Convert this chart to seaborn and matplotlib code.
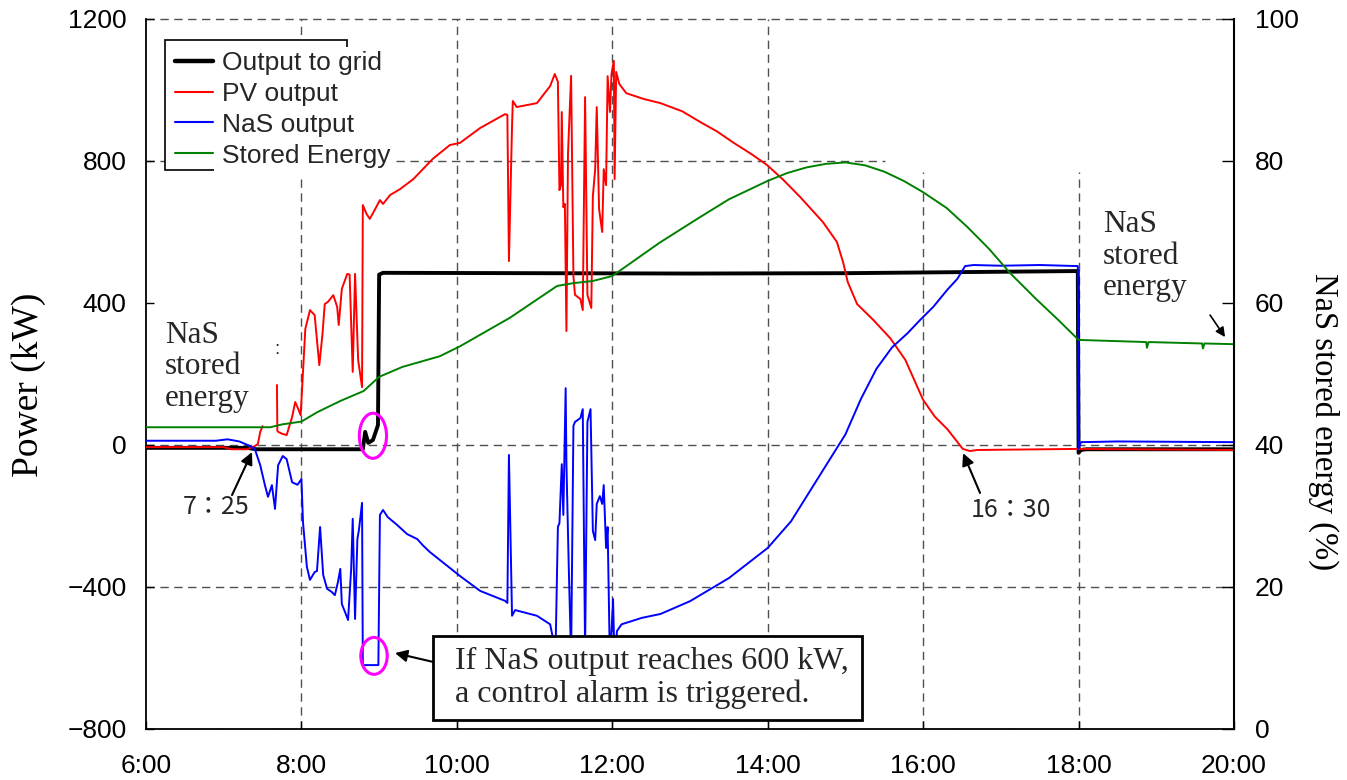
import matplotlib
matplotlib.use("Agg")
import matplotlib.pyplot as plt
import seaborn as sns
import numpy as np
from matplotlib.patches import Ellipse, Rectangle
from matplotlib.lines import Line2D

# ---------------- data ----------------
series_names = ["Output to grid", "PV output", "NaS output", "Stored Energy"]

hour_ticks = [6, 8, 10, 12, 14, 16, 18, 20]
hour_labels = ["6:00", "8:00", "10:00", "12:00", "14:00", "16:00", "18:00", "20:00"]
power_ticks = [-800, -400, 0, 400, 800, 1200]
energy_ticks = [0, 20, 40, 60, 80, 100]

black_time = [6.00, 7.30, 7.42, 8.79, 8.82, 8.86, 8.92, 8.985, 9.00, 9.05,
              11.00, 13.00, 15.00, 17.99, 18.00, 18.03, 18.10, 20.00]
black_kw = [-8, -8, -12, -12, 37, 6, 14, 56, 480, 485,
            484, 483, 484, 490, -22, -14, -12, -12]

red_time = [
    6.00, 7.00, 7.10, 7.30, 7.40, 7.44, 7.47, 7.50,
    7.685, 7.69, 7.70, 7.76, 7.81, 7.88, 7.92, 7.96, 7.99,
    8.05, 8.11, 8.17, 8.23, 8.27, 8.30, 8.34, 8.41, 8.46, 8.48,
    8.52, 8.59, 8.62, 8.66, 8.69, 8.73, 8.78, 8.79, 8.84, 8.88,
    8.95, 9.01, 9.05, 9.14, 9.27, 9.44, 9.69, 9.91, 10.04, 10.30,
    10.62, 10.65, 10.67, 10.71, 10.72, 10.77, 11.03, 11.20, 11.26, 11.30,
    11.32, 11.34, 11.35, 11.37, 11.39, 11.41, 11.43, 11.47, 11.50, 11.52,
    11.59, 11.62, 11.65, 11.68, 11.73, 11.75, 11.78, 11.80, 11.83, 11.87,
    11.89, 11.92, 11.94, 11.97, 11.99, 12.02, 12.03, 12.05, 12.09, 12.18,
    12.40, 12.62, 12.90, 13.13, 13.35, 13.55, 13.80, 13.99, 14.20, 14.42,
    14.71, 14.89, 14.97, 15.03, 15.15, 15.36, 15.58, 15.77, 16.00, 16.15,
    16.31, 16.51, 16.60, 16.70, 18.00, 20.00]
red_kw = [
    -6, -6, -12, -12, -3, 3, 37, 53,
    169, 40, 37, 31, 28, 79, 121, 101, 84,
    327, 380, 366, 225, 310, 397, 403, 422, 389, 338,
    440, 482, 480, 206, 482, 239, 163, 676, 650, 637,
    665, 690, 679, 704, 721, 749, 806, 845, 851, 893,
    932, 930, 518, 899, 969, 952, 963, 1011, 1045, 1023,
    718, 732, 938, 670, 679, 321, 820, 1040, 476, 423,
    411, 380, 980, 423, 386, 701, 777, 952, 665, 600,
    777, 732, 1039, 938, 1045, 1082, 749, 1051, 1017, 991,
    975, 963, 940, 910, 883, 853, 818, 789, 747, 698,
    628, 572, 515, 459, 397, 352, 300, 240, 127, 80,
    45, -11, -17, -14, -11, -14]
red_data_gap_after = 7.55   # PV record is missing between 7:30 and 7:41

blue_time = [
    6.00, 6.90, 7.05, 7.20, 7.34, 7.40, 7.47, 7.53, 7.57, 7.62,
    7.66, 7.70, 7.76, 7.81, 7.88, 7.95, 8.00, 8.02, 8.07, 8.11,
    8.17, 8.20, 8.24, 8.28, 8.33, 8.39, 8.43, 8.47, 8.50, 8.52,
    8.56, 8.60, 8.64, 8.66, 8.69, 8.72, 8.74, 8.78, 8.79, 8.99,
    9.01, 9.05, 9.11, 9.23, 9.36, 9.49, 9.56, 9.65, 10.04, 10.30,
    10.62, 10.65, 10.67, 10.71, 10.75, 11.03, 11.20, 11.27, 11.30, 11.32,
    11.35, 11.37, 11.40, 11.41, 11.44, 11.47, 11.50, 11.52, 11.59, 11.62,
    11.65, 11.68, 11.72, 11.75, 11.78, 11.80, 11.84, 11.87, 11.89, 11.92,
    11.94, 11.97, 12.01, 12.03, 12.06, 12.12, 12.38, 12.62, 13.00, 13.50,
    14.00, 14.30, 14.60, 14.80, 15.00, 15.20, 15.40, 15.60, 15.80, 15.96,
    16.13, 16.31, 16.44, 16.54, 16.65, 17.00, 17.50, 17.99, 18.00, 18.03,
    18.50, 20.00]
blue_kw = [
    12, 12, 16, 10, -3, -11, -57, -113, -146, -113,
    -180, -57, -31, -40, -105, -112, -96, -217, -343, -380,
    -358, -355, -231, -366, -405, -414, -423, -386, -349, -448,
    -470, -493, -349, -208, -490, -265, -239, -163, -620, -620,
    -197, -183, -203, -225, -251, -265, -282, -301, -369, -411,
    -439, -445, -28, -481, -465, -481, -505, -580, -231, -220,
    -54, -197, 160, -54, -344, -600, 54, 65, 76, 101,
    -580, 65, 101, -242, -268, -166, -144, -166, -113, -290,
    -231, -620, -434, -620, -524, -505, -487, -476, -440, -375,
    -290, -215, -110, -40, 30, 130, 215, 275, 315, 352,
    389, 437, 468, 504, 507, 505, 507, 504, -10, 8,
    10, 8]

green_time = [6.00, 7.60, 7.75, 8.00, 8.20, 8.50, 8.80, 9.00, 9.30, 9.78,
              10.04, 10.68, 11.29, 11.50, 11.75, 12.00, 12.61, 13.13, 13.50, 14.00,
              14.25, 14.50, 14.75, 15.00, 15.25, 15.50, 15.75, 16.00, 16.30, 16.57,
              16.85, 17.12, 17.45, 17.74, 18.00, 18.87, 18.88, 18.90, 19.59, 19.60,
              19.62, 20.00]
green_pct = [42.5, 42.5, 42.9, 43.3, 44.6, 46.2, 47.6, 49.6, 51.0, 52.5,
             53.9, 57.9, 62.4, 62.8, 63.1, 63.8, 68.5, 72.1, 74.6, 77.2,
             78.3, 79.1, 79.6, 79.8, 79.4, 78.5, 77.2, 75.6, 73.4, 70.7,
             67.6, 64.2, 60.6, 57.6, 54.8, 54.5, 53.7, 54.5, 54.3, 53.6,
             54.3, 54.2]

# ---------------- figure ----------------
sns.set_theme(style="white")
plt.rcParams['font.family'] = ['Liberation Sans', 'DejaVu Sans']
plt.rcParams['axes.unicode_minus'] = True
SERIF = ['Liberation Serif', 'DejaVu Serif']
CJK = ['Noto Sans CJK JP', 'DejaVu Sans']

W, H = 1347, 780
L, R, T, B = 146, 1234, 19, 729
fig = plt.figure(figsize=(W / 100, H / 100), dpi=100)
fig.patch.set_facecolor('white')
ax = fig.add_axes([L / W, 1 - B / H, (R - L) / W, (B - T) / H])
ax2 = ax.twinx()


def pax(x, y):
    """pixel position -> axes fraction"""
    return ((x - L) / (R - L), (B - y) / (B - T))


# grid lines
gkw = dict(color='#505050', lw=1.0, ls=(0, (6, 4)), zorder=0.5)
for yv in power_ticks[:3]:
    ax.axhline(yv, **gkw)
ax.axhline(800, xmax=pax(885, 0)[0], **gkw)
ax.axhline(1200, clip_on=False, **gkw)
for xv in hour_ticks[1:5]:
    ax.axvline(xv, **gkw)
for xv in hour_ticks[5:7]:
    ax.axvline(xv, ymax=pax(0, 172)[1], **gkw)

# lines
lkw = dict(estimator=None, sort=False, legend=False)
sns.lineplot(x=black_time, y=black_kw, ax=ax, color='black', lw=2.8, zorder=2, **lkw)
rt = np.array(red_time)
rp = np.array(red_kw)
m = rt < red_data_gap_after
sns.lineplot(x=rt[m], y=rp[m], ax=ax, color='#ff0000', lw=1.4, zorder=3, **lkw)
sns.lineplot(x=rt[~m], y=rp[~m], ax=ax, color='#ff0000', lw=1.4, zorder=3, **lkw)
sns.lineplot(x=blue_time, y=blue_kw, ax=ax, color='#0000ff', lw=1.4, zorder=4, **lkw)
sns.lineplot(x=green_time, y=green_pct, ax=ax2, color='#008000', lw=1.4, zorder=2, **lkw)

# axes
ax.set_xlim(6, 20)
ax.set_ylim(-800, 1200)
ax2.set_ylim(0, 100)
ax.set_xticks(hour_ticks)
ax.set_xticklabels(hour_labels)
ax.set_yticks(power_ticks)
ax2.set_yticks(energy_ticks)
ax.set_xlabel("")
ax.tick_params(axis='both', direction='in', length=6, width=1, colors='black',
               labelsize=19, bottom=True, left=True)
ax.tick_params(axis='x', pad=18)
ax.tick_params(axis='y', pad=14)
ax2.tick_params(axis='y', direction='in', length=9, width=1, colors='black',
                labelsize=19, right=True, pad=15)
for a in (ax, ax2):
    a.spines['top'].set_visible(False)
ax.spines['right'].set_visible(False)
ax2.spines['left'].set_visible(False)
ax2.spines['bottom'].set_visible(False)
for s in ('left', 'bottom'):
    ax.spines[s].set_color('black')
    ax.spines[s].set_linewidth(1.3)
ax2.spines['right'].set_color('black')
ax2.spines['right'].set_linewidth(1.5)

ax.set_ylabel("Power (kW)", family=SERIF, fontsize=27, color='black')
ax.yaxis.set_label_coords(*pax(46, 385))
ax2.set_ylabel("NaS stored energy (%)", family=SERIF, fontsize=23.5, color='black',
               rotation=270, va='bottom')
ax2.yaxis.set_label_coords(*pax(1308, 422))

# legend with partially hidden frame
ax2.add_patch(Rectangle(pax(165, 178), (392 - 165) / (R - L), (178 - 40) / (B - T),
                        transform=ax2.transAxes, facecolor='white', edgecolor='none', zorder=7))
ax2.add_patch(Rectangle(pax(165, 170), (347 - 165) / (R - L), (170 - 40) / (B - T),
                        transform=ax2.transAxes, facecolor='none', edgecolor='black',
                        lw=1.2, zorder=8))
ax2.add_patch(Rectangle(pax(214, 178), (392 - 214) / (R - L), (178 - 47) / (B - T),
                        transform=ax2.transAxes, facecolor='white', edgecolor='none', zorder=9))
handles = [Line2D([], [], color='black', lw=3.2),
           Line2D([], [], color='#ff0000', lw=1.5),
           Line2D([], [], color='#0000ff', lw=1.5),
           Line2D([], [], color='#008000', lw=1.5)]
leg = ax2.legend(handles, series_names, loc='upper left', bbox_to_anchor=pax(175, 51),
                 frameon=False, prop={'family': 'Liberation Sans', 'size': 19},
                 handlelength=1.45, handletextpad=0.32, labelspacing=0.26,
                 borderpad=0, borderaxespad=0)
leg.set_zorder(10)

# annotations
td = ax.transData
ax2.text(6.245, 220, "NaS\nstored\nenergy", transform=td, family=SERIF, fontsize=22.5,
         va='center', ha='left', linespacing=1.1, zorder=6)
ax2.text(18.315, 532, "NaS\nstored\nenergy", transform=td, family=SERIF, fontsize=22.5,
         va='center', ha='left', linespacing=1.1, zorder=6)
ax2.text(7.686, 268, ":", transform=td, fontsize=14, ha='center', va='center', zorder=6)

akw = dict(arrowstyle='-|>', color='black', lw=1.5, mutation_scale=18, shrinkA=0, shrinkB=0)
ax2.text(6.90, -175, "7：25", transform=td, family=CJK, fontsize=18, ha='center', va='center')
ax2.annotate("", xy=(7.364, -20), xytext=(7.107, -141), xycoords=td, textcoords=td,
             arrowprops=akw)
ax2.text(17.131, -183, "16：30", transform=td, family=CJK, fontsize=18, ha='center', va='center')
ax2.annotate("", xy=(16.514, -23), xytext=(16.732, -135), xycoords=td, textcoords=td,
             arrowprops=akw)
ax2.annotate("", xy=(19.885, 304), xytext=(19.692, 366), xycoords=td, textcoords=td,
             arrowprops=dict(akw, mutation_scale=14, lw=1.2))

# alarm box
ax2.add_patch(Rectangle((9.693, -775), 15.214 - 9.693, 237, transform=td,
                        facecolor='white', edgecolor='black', lw=2.0, zorder=8))
ax2.text(9.976, -656, "If NaS output reaches 600 kW,\na control alarm is triggered.",
         transform=td, family=SERIF, fontsize=23, va='center', ha='left',
         linespacing=1.18, zorder=9)
ax2.annotate("", xy=(9.204, -586), xytext=(9.693, -611), xycoords=td, textcoords=td,
             arrowprops=akw)

# magenta highlight circles
ax.add_patch(Ellipse((8.92, 26), 0.35, 127, facecolor='none', edgecolor='#ff00ff',
                     lw=2.2, zorder=6))
ax.add_patch(Ellipse((8.934, -594), 0.34, 104, facecolor='none', edgecolor='#ff00ff',
                     lw=2.2, zorder=6))

ax.set_xlim(6, 20)
ax.set_ylim(-800, 1200)
ax2.set_ylim(0, 100)

fig.savefig("out.png", dpi=100, facecolor='white')
